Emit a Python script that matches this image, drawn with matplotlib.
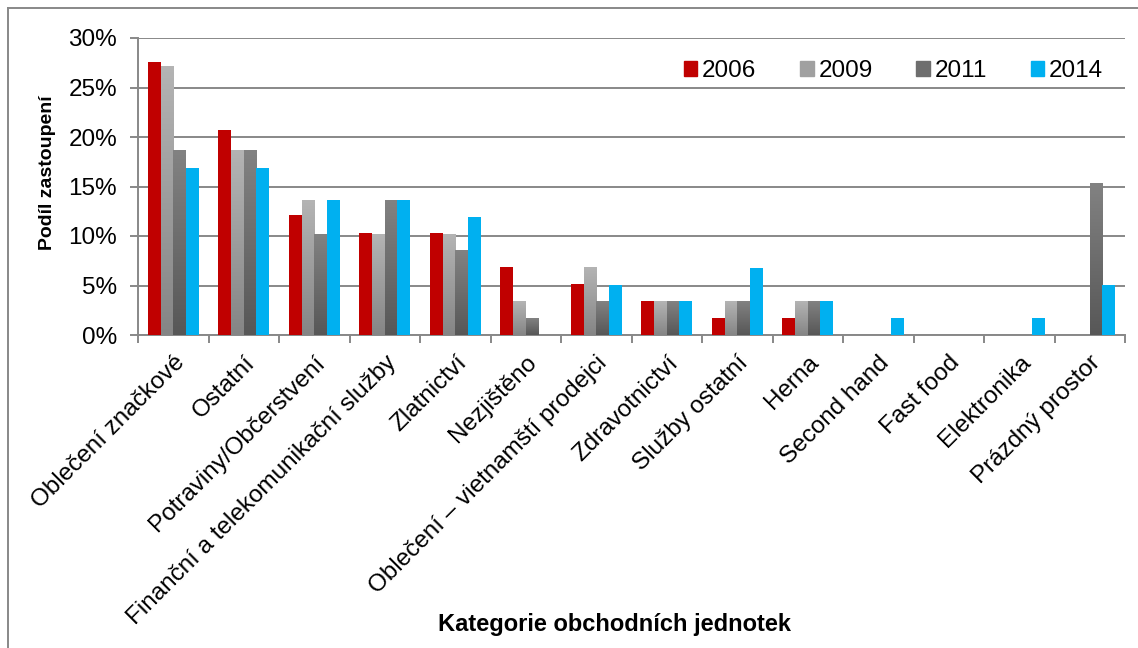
import numpy as np
import matplotlib
matplotlib.use('Agg')
import matplotlib.pyplot as plt
from matplotlib.patches import Patch
from matplotlib.ticker import FuncFormatter, MultipleLocator

plt.rcParams['font.family'] = ['Liberation Sans', 'DejaVu Sans']

categories = ['Oblečení značkové', 'Ostatní', 'Potraviny/Občerstvení',
              'Finanční a telekomunikační služby', 'Zlatnictví', 'Nezjištěno',
              'Oblečení – vietnamští prodejci', 'Zdravotnictví', 'Služby ostatní',
              'Herna', 'Second hand', 'Fast food', 'Elektronika', 'Prázdný prostor']
years = ['2006', '2009', '2011', '2014']

# podíl v procentech
y2006 = [27.6, 20.7, 12.1, 10.3, 10.3, 6.9, 5.2, 3.4, 1.7, 1.7, 0, 0, 0, 0]
y2009 = [27.1, 18.6, 13.6, 10.2, 10.2, 3.4, 6.8, 3.4, 3.4, 3.4, 0, 0, 0, 0]
y2011 = [18.6, 18.6, 10.2, 13.6, 8.5, 1.7, 3.4, 3.4, 3.4, 3.4, 0, 0, 0, 15.3]
y2014 = [16.9, 16.9, 13.6, 13.6, 11.9, 0, 5.1, 3.4, 6.8, 3.4, 1.7, 0, 1.7, 5.1]

series = [y2006, y2009, y2011, y2014]
# plné barvy nebo gradient (horní, dolní)
fills = ['#c00000', ('#b4b4b4', '#858585'), ('#828282', '#575757'), '#00b0f0']
legend_cols = ['#c00000', '#a0a0a0', '#6e6e6e', '#00b0f0']

fig = plt.figure(figsize=(11.38, 6.48), dpi=100)
ax = fig.add_axes([138 / 1138, 1 - 335 / 648, (1125 - 138) / 1138, (335 - 38) / 648])

x = np.arange(len(categories))
w = 0.18
grad = np.linspace(1, 0, 256).reshape(-1, 1)
for i, (vals, fc) in enumerate(zip(series, fills)):
    pos = x + (i - 1.5) * w
    if isinstance(fc, str):
        ax.bar(pos, vals, w, color=fc, zorder=3)
    else:
        cmap = matplotlib.colors.LinearSegmentedColormap.from_list('g', [fc[1], fc[0]])
        for p, v in zip(pos, vals):
            if v > 0:
                ax.imshow(grad, cmap=cmap, aspect='auto', zorder=3,
                          extent=[p - w / 2, p + w / 2, 0, v])

ax.set_xlim(-0.5, len(categories) - 0.5)
ax.set_ylim(0, 30)
ax.yaxis.set_major_locator(MultipleLocator(5))
ax.yaxis.set_major_formatter(FuncFormatter(lambda v, _: '%d%%' % v))
ax.grid(axis='y', color='#888888', lw=1.4, zorder=1)

ax.set_xticks(np.arange(len(categories) + 1) - 0.5)
ax.set_xticklabels([])
ax.set_xticks(x, minor=True)
ax.set_xticklabels(categories, minor=True, rotation=45, ha='right', va='top',
                   rotation_mode='anchor', fontsize=17.5)
ax.tick_params(axis='x', which='minor', length=0, pad=12)
ax.tick_params(axis='x', which='major', length=6, color='#888888', width=1.4)
ax.tick_params(axis='y', length=6, color='#888888', width=1.4, labelsize=17.5, pad=9)

for s in ['top', 'right']:
    ax.spines[s].set_visible(False)
for s in ['left', 'bottom']:
    ax.spines[s].set_color('#888888')
    ax.spines[s].set_linewidth(1.4)

ax.set_ylabel('Podíl zastoupení', fontsize=14, fontweight='bold')
ax.yaxis.set_label_coords((56 - 138) / 987, (335 - 173) / 297)
fig.text(615 / 1138, 1 - 625 / 648, 'Kategorie obchodních jednotek',
         fontsize=17, fontweight='bold', ha='center', va='center')

handles = [Patch(color=c) for c in legend_cols]
ax.legend(handles, years, ncol=4, frameon=False, fontsize=17.5,
          loc='upper right', bbox_to_anchor=(1.0, 1.0),
          handlelength=0.55, handleheight=0.55, handletextpad=0.2,
          columnspacing=1.8)

# rámeček grafu
fig.add_artist(plt.Line2D([8 / 1138, 8 / 1138], [0, 1 - 8 / 648],
                          transform=fig.transFigure, color='#888888', lw=1.4))
fig.add_artist(plt.Line2D([8 / 1138, 1], [1 - 8 / 648, 1 - 8 / 648],
                          transform=fig.transFigure, color='#888888', lw=1.4))

fig.savefig('out.png', dpi=100)
